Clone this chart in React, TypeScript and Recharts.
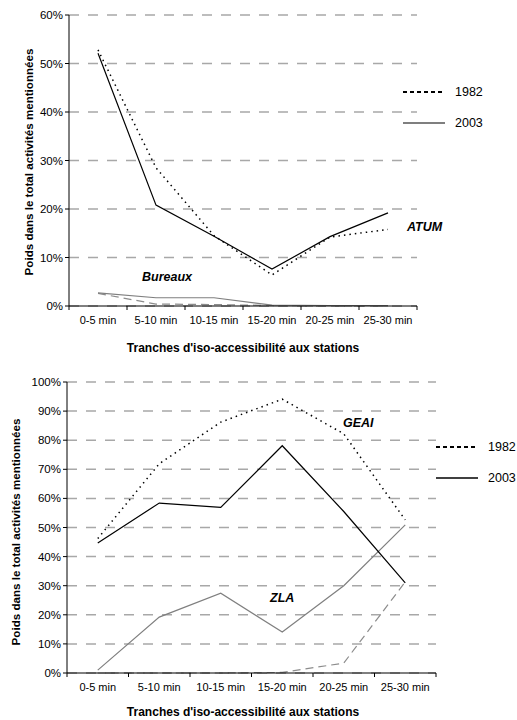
import React from "react"
import { CartesianGrid, Line, LineChart, XAxis, YAxis } from "recharts"

// tranches d'iso-accessibilité (categories)
const categories = ["0-5 min", "5-10 min", "10-15 min", "15-20 min", "20-25 min", "25-30 min"]

// graphique 1 : ATUM et Bureaux (%)
const atum1982 = [52.8, 28.5, 14.5, 6.4, 14.2, 15.8]
const atum2003 = [52.1, 20.8, 14.4, 7.6, 14.3, 19.2]
const bureaux1982 = [2.6, 0.4, 0.3, 0.1, 0, 0]
const bureaux2003 = [2.7, 1.7, 1.7, 0.2, 0.1, 0.1]
const ticksTop = [0, 10, 20, 30, 40, 50, 60]

// graphique 2 : GEAI et ZLA (%)
const geai1982 = [46.2, 71.9, 86.2, 94.1, 82.2, 52.6]
const geai2003 = [44.7, 58.4, 56.9, 78.1, 55.5, 31]
const zla1982 = [0, 0, 0, 0.2, 3.4, 31.3]
const zla2003 = [1, 19.2, 27.4, 14.1, 30, 50.9]
const ticksBottom = [0, 10, 20, 30, 40, 50, 60, 70, 80, 90, 100]

const legendYears = ["1982", "2003"]
const xTitle = "Tranches d'iso-accessibilité aux stations"
const yTitle = "Poids dans le total activités mentionnées"

const FONT = "'Liberation Sans', Arial, sans-serif"
const bounds = [0, 1, 2, 3, 4, 5, 6]

const top = categories.map((name, i) => ({
  pos: i + 0.5,
  name,
  a82: atum1982[i],
  a03: atum2003[i],
  b82: bureaux1982[i],
  b03: bureaux2003[i],
}))

const bottom = categories.map((name, i) => ({
  pos: i + 0.5,
  name,
  g82: geai1982[i],
  g03: geai2003[i],
  z82: zla1982[i],
  z03: zla2003[i],
}))

function catTick(step: number) {
  return (props: any) => {
    const { x, y, payload } = props
    const i = payload.value
    if (i >= categories.length) return <g />
    return (
      <text x={x + step / 2} y={y + 4} dy="0.71em" textAnchor="middle" fontSize={11} fontFamily={FONT} fill="#000">
        {categories[i]}
      </text>
    )
  }
}

function Legend({ left, top, solidColor }: any) {
  return (
    <div style={{ position: "absolute", left, top, fontFamily: FONT, fontSize: 12.5 }}>
      {legendYears.map((yr, i) => (
        <div key={yr} style={{ position: "absolute", left: 0, top: i * 31, display: "flex", alignItems: "center", whiteSpace: "nowrap" }}>
          <svg width={52} height={8}>
            <line x1={0} y1={4} x2={42} y2={4} stroke={i === 0 ? "#000" : solidColor} strokeWidth={i === 0 ? 2 : 1.5} strokeDasharray={i === 0 ? "4 3" : undefined} />
          </svg>
          <span>{yr}</span>
        </div>
      ))}
    </div>
  )
}

function Tag({ left, top, text }: any) {
  return (
    <span style={{ position: "absolute", left, top, fontFamily: FONT, fontSize: 12.5, fontWeight: "bold", fontStyle: "italic", whiteSpace: "nowrap" }}>
      {text}
    </span>
  )
}

function YTitle({ cx, cy }: any) {
  return (
    <div style={{ position: "absolute", left: cx, top: cy, transform: "translate(-50%, -50%) rotate(-90deg)", fontFamily: FONT, fontSize: 11.6, fontWeight: "bold", whiteSpace: "nowrap" }}>
      {yTitle}
    </div>
  )
}

function XTitle({ cx, cy }: any) {
  return (
    <div style={{ position: "absolute", left: cx, top: cy, transform: "translate(-50%, -50%)", fontFamily: FONT, fontSize: 12, fontWeight: "bold", whiteSpace: "nowrap" }}>
      {xTitle}
    </div>
  )
}

const yTickStyle = { fontSize: 11.5, fontFamily: FONT, fill: "#000" }

export default function App() {
  return (
    <div style={{ position: "absolute", left: 0, top: 0, width: 517, height: 720, background: "#fff" }}>
      {/* graphique du haut */}
      <div style={{ position: "absolute", left: 0, top: 0 }}>
        <LineChart width={517} height={340} data={top} margin={{ top: 15, right: 100, left: 9, bottom: 4 }}>
          <CartesianGrid vertical={false} stroke="#a8a8a8" strokeWidth={1.5} strokeDasharray="10 9" />
          <XAxis
            type="number"
            dataKey="pos"
            domain={[0, 6]}
            ticks={bounds}
            interval={0}
            height={30}
            tickSize={4}
            stroke="#000"
            tick={catTick(58)}
          />
          <YAxis
            domain={[0, 60]}
            ticks={ticksTop}
            interval={0}
            width={60}
            tickSize={4}
            stroke="#000"
            tick={yTickStyle}
            tickFormatter={(v) => `${v}%`}
          />
          <Line dataKey="b82" stroke="#8c8c8c" strokeWidth={1.2} strokeDasharray="8 5" dot={false} isAnimationActive={false} />
          <Line dataKey="b03" stroke="#7f7f7f" strokeWidth={1.2} dot={false} isAnimationActive={false} />
          <Line dataKey="a82" stroke="#000" strokeWidth={1.5} strokeDasharray="1.5 4" dot={false} isAnimationActive={false} />
          <Line dataKey="a03" stroke="#000" strokeWidth={1.2} dot={false} isAnimationActive={false} />
        </LineChart>
        <YTitle cx={28} cy={162} />
        <XTitle cx={243} cy={348} />
        <Tag left={407} top={220} text="ATUM" />
        <Tag left={142} top={270} text="Bureaux" />
        <Legend left={403} top={85} solidColor="#555" />
      </div>

      {/* graphique du bas */}
      <div style={{ position: "absolute", left: 0, top: 340 }}>
        <LineChart width={517} height={364} data={bottom} margin={{ top: 42, right: 81, left: 7, bottom: 1 }}>
          <CartesianGrid vertical={false} stroke="#a8a8a8" strokeWidth={1.5} strokeDasharray="10 9" />
          <XAxis
            type="number"
            dataKey="pos"
            domain={[0, 6]}
            ticks={bounds}
            interval={0}
            height={30}
            tickSize={4}
            stroke="#000"
            tick={catTick(61.5)}
          />
          <YAxis
            domain={[0, 100]}
            ticks={ticksBottom}
            interval={0}
            width={60}
            tickSize={4}
            stroke="#000"
            tick={yTickStyle}
            tickFormatter={(v) => `${v}%`}
          />
          <Line dataKey="z82" stroke="#8c8c8c" strokeWidth={1.2} strokeDasharray="8 5" dot={false} isAnimationActive={false} />
          <Line dataKey="z03" stroke="#7f7f7f" strokeWidth={1.2} dot={false} isAnimationActive={false} />
          <Line dataKey="g82" stroke="#000" strokeWidth={1.5} strokeDasharray="1.5 4" dot={false} isAnimationActive={false} />
          <Line dataKey="g03" stroke="#000" strokeWidth={1.2} dot={false} isAnimationActive={false} />
        </LineChart>
        <YTitle cx={15} cy={192} />
        <XTitle cx={243} cy={372} />
        <Tag left={343} top={76} text="GEAI" />
        <Tag left={270} top={251} text="ZLA" />
        <Legend left={436} top={100} solidColor="#000" />
      </div>
    </div>
  )
}
